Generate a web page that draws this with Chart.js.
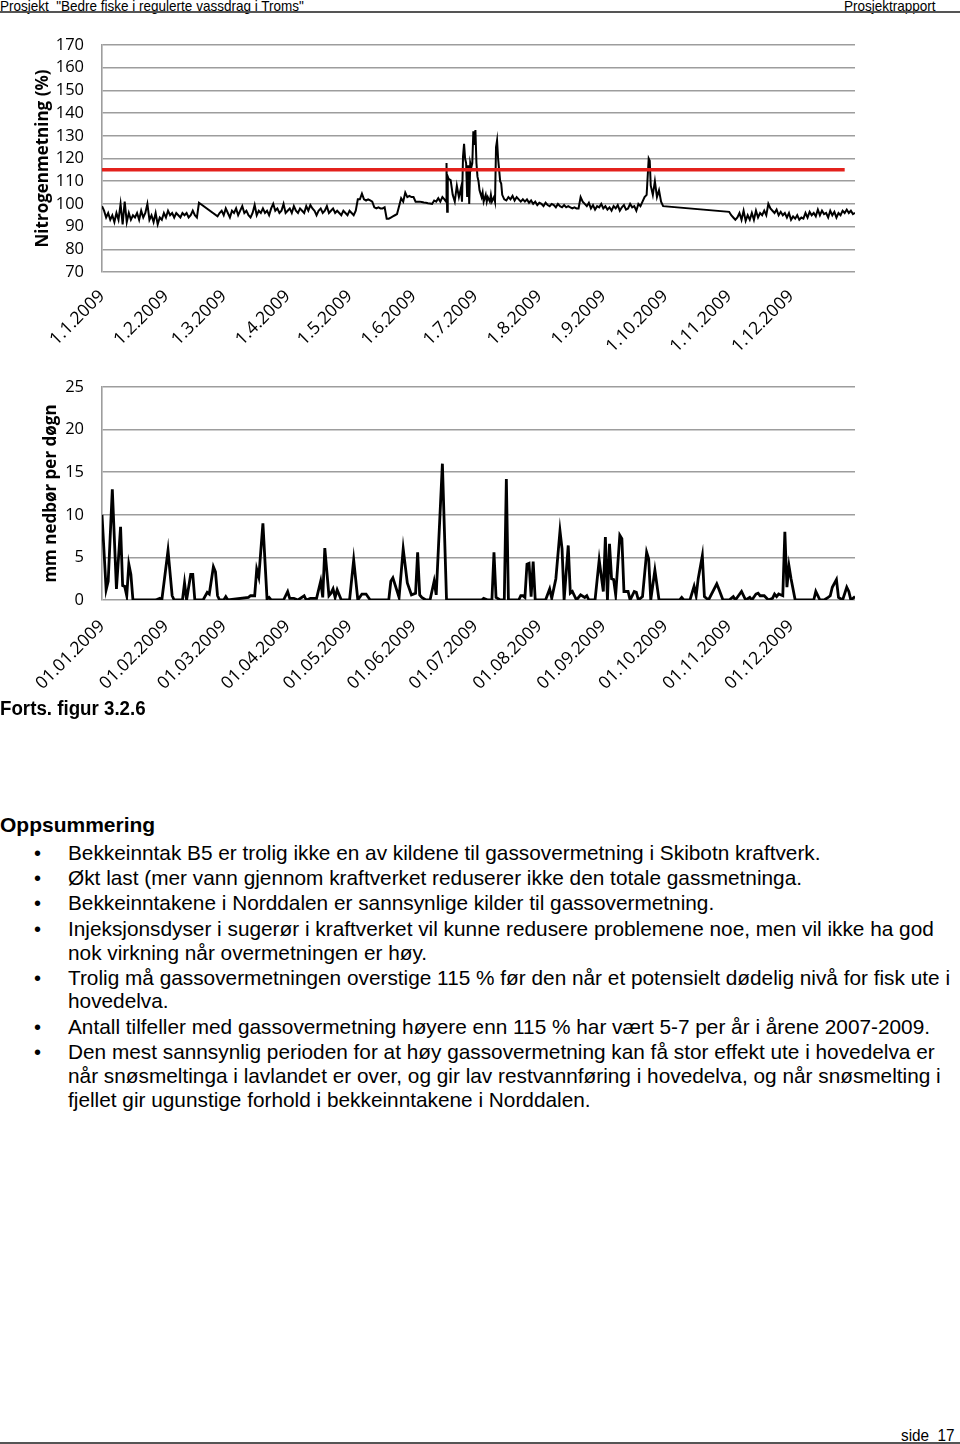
<!DOCTYPE html>
<html>
<head>
<meta charset="utf-8">
<script src="https://cdn.jsdelivr.net/npm/chart.js@4.4.0/dist/chart.umd.min.js"></script>
<style>
  body { margin: 0; width: 960px; height: 1444px; position: relative; background: #fff; overflow: hidden;
         font-family: "Liberation Sans", Arial, sans-serif; color: #000; }
  .narrow { position: absolute; font-family: "Liberation Sans", Arial, sans-serif; white-space: nowrap;
            transform: scaleX(0.9); transform-origin: 0 0; }
  .rule { position: absolute; left: 0; width: 960px; height: 2px; background: #555; }
  .line { position: absolute; left: 68px; font-size: 20.8px; line-height: 24px; white-space: nowrap; }
  .dot { position: absolute; left: 34px; font-size: 20px; line-height: 24px; }
  canvas { position: absolute; left: 0; }
</style>
</head>
<body>
<div class="narrow" style="left:0;top:-3px;font-size:15px">Prosjekt&nbsp;&nbsp;"Bedre fiske i regulerte vassdrag i Troms"</div>
<div class="narrow" style="left:844px;top:-3px;font-size:15px">Prosjektrapport</div>
<div class="rule" style="top:11px"></div>

<canvas id="nitro" width="870" height="330" style="top:30px"></canvas>
<canvas id="rain" width="870" height="340" style="top:360px"></canvas>

<div class="narrow" style="left:0;top:697px;font-size:19.5px;font-weight:bold;transform:scaleX(0.96)">Forts. figur 3.2.6</div>

<div style="position:absolute;left:0;top:813px;font-size:21px;font-weight:bold">Oppsummering</div>
<div class="dot" style="top:841px">•</div><div class="line" style="top:841px">Bekkeinntak B5 er trolig ikke en av kildene til gassovermetning i Skibotn kraftverk.</div>
<div class="dot" style="top:866px">•</div><div class="line" style="top:866px">Økt last (mer vann gjennom kraftverket reduserer ikke den totale gassmetninga.</div>
<div class="dot" style="top:891px">•</div><div class="line" style="top:891px">Bekkeinntakene i Norddalen er sannsynlige kilder til gassovermetning.</div>
<div class="dot" style="top:917px">•</div><div class="line" style="top:917px">Injeksjonsdyser i sugerør i kraftverket vil kunne redusere problemene noe, men vil ikke ha god</div>
<div class="line" style="top:941px">nok virkning når overmetningen er høy.</div>
<div class="dot" style="top:966px">•</div><div class="line" style="top:966px">Trolig må gassovermetningen overstige 115 % før den når et potensielt dødelig nivå for fisk ute i</div>
<div class="line" style="top:989px">hovedelva.</div>
<div class="dot" style="top:1015px">•</div><div class="line" style="top:1015px">Antall tilfeller med gassovermetning høyere enn 115 % har vært 5-7 per år i årene 2007-2009.</div>
<div class="dot" style="top:1040px">•</div><div class="line" style="top:1040px">Den mest sannsynlig perioden for at høy gassovermetning kan få stor effekt ute i hovedelva er</div>
<div class="line" style="top:1064px">når snøsmeltinga i lavlandet er over, og gir lav restvannføring i hovedelva, og når snøsmelting i</div>
<div class="line" style="top:1088px">fjellet gir ugunstige forhold i bekkeinntakene i Norddalen.</div>

<div class="narrow" style="left:901px;top:1426px;font-size:17px">side&nbsp;&nbsp;17</div>
<div class="rule" style="top:1442px"></div>

<script>
// dager fra 1.1.2009 der månedene starter
const monthStartDays = [0, 31, 59, 90, 120, 151, 181, 212, 243, 273, 304, 334];
const nitroTickLabels = ['1.1.2009', '1.2.2009', '1.3.2009', '1.4.2009', '1.5.2009', '1.6.2009',
  '1.7.2009', '1.8.2009', '1.9.2009', '1.10.2009', '1.11.2009', '1.12.2009'];
const rainTickLabels = ['01.01.2009', '01.02.2009', '01.03.2009', '01.04.2009', '01.05.2009', '01.06.2009',
  '01.07.2009', '01.08.2009', '01.09.2009', '01.10.2009', '01.11.2009', '01.12.2009'];

// nitrogenmetning (%), dag i året
const nitroDays = [
  0, 1, 2, 3, 4, 5, 6, 7, 8, 9, 10, 11, 12, 13, 14, 15, 16, 17, 18, 19, 20, 21, 22, 23, 24, 25, 26, 27, 28, 29,
  30, 31, 32, 33, 34, 35, 36, 37, 38, 39, 40, 41, 42, 43, 44, 45, 46, 47, 56,
  57, 58, 59, 60, 61, 62, 63, 64, 65, 66, 67, 68, 69, 70, 71, 72, 73, 74, 75, 76, 77, 78, 79, 80, 81, 82, 83,
  84, 85, 86, 87, 88, 89, 90, 91, 92, 93, 94, 95, 96, 97, 98, 99, 100, 101, 102, 103, 104, 105, 106, 107, 108,
  109, 110, 111, 112, 113, 114, 115, 116, 117, 118, 119, 120, 121, 122, 123,
  124, 125, 126, 127, 128, 129, 130, 131, 132, 133, 134, 135, 136, 137, 138, 139, 140, 141, 142, 143, 144, 145,
  146, 147, 148, 149, 150, 151, 152, 153, 154, 155, 156, 157, 158, 159, 160, 161, 162, 163, 164, 165, 166,
  166.8, 167, 167.3, 167.6, 168, 169, 170, 171, 172, 173, 174, 174.5, 175, 175.5, 176, 176.5, 177, 177.5, 178,
  178.5, 179, 179.5, 180, 180.5, 181, 181.5, 182, 182.5, 183, 184, 184.5, 185, 186, 186.5, 187, 188, 188.5, 189,
  190, 190.5, 191, 191.5, 192, 193, 193.5, 194, 195, 196, 197, 198, 199, 200, 201, 202, 203, 204, 205, 206, 207,
  208, 209, 210, 211, 212, 213, 214, 215, 216, 217, 218, 219, 220, 221, 222, 223, 224, 225, 226, 227, 228, 229,
  230, 231, 232, 233, 234, 235, 236, 237, 238, 239, 240, 241, 242, 243, 244, 245, 246, 247, 248, 249, 250, 251,
  252, 253, 254, 255, 256, 257, 258, 259, 260, 261, 262, 263, 264, 265, 265.5, 266, 267, 268, 269, 270, 271, 272,
  304, 305, 306, 307, 308, 309, 310, 311, 312, 313, 314, 315, 316, 317, 318, 319, 320, 321, 322, 323, 324, 325,
  326, 327, 328, 329, 330, 331, 332, 333, 334, 335, 336, 337, 338, 339, 340, 341, 342, 343, 344, 345, 346, 347,
  348, 349, 350, 351, 352, 353, 354, 355, 356, 357, 358, 359, 360, 361, 362, 363, 364, 365
];
const nitroValues = [
  99, 97, 94, 96, 93, 95, 92, 96, 93, 100, 91, 101, 92, 96, 93, 95, 94, 96, 93, 97, 94, 96, 100, 93, 95, 92, 96, 91, 94, 93,
  96, 94, 97, 95, 96, 94, 96, 95, 94, 96, 95, 96, 94, 95, 97, 95, 94, 100.5, 94.5,
  96, 97, 95, 98, 96, 94, 97, 96, 98, 95, 97, 99, 96, 97, 95, 94, 96, 99.5, 95, 97, 96, 98, 96, 97, 95, 98, 100,
  97, 98, 96, 97, 100, 96, 97, 98, 96, 99, 97, 96, 98, 97, 96, 99, 97, 99.5, 98, 97, 95, 97, 98, 96, 97,
  99, 96, 97, 98, 96, 97, 96, 95, 97, 96, 95, 97, 96, 95, 97,
  102, 102, 104.5, 102, 101.5, 102, 101.5, 101, 98.5, 98, 98.5, 98, 98, 98.5, 93.5, 93.5, 94, 94.5, 95, 95.5, 99, 102.5,
  101, 105, 103, 103.5, 103, 103, 101, 101, 101, 100.8, 100.6, 100.5, 100.3, 100.2, 100, 101.5, 101, 102.5, 101, 103, 102,
  101, 118, 96.5, 112, 111, 110.5, 104, 101, 108, 103, 107, 101, 121, 126.5, 120, 118, 103, 117, 100,
  118, 116, 118, 132, 126, 132.5, 118, 112, 110, 106, 103, 105, 101, 104, 101, 103, 101, 104, 101,
  103, 101, 125, 128, 120, 110, 109, 104, 102, 101.5, 103, 102, 103.5, 101.5, 103, 102, 101, 102, 101, 102, 100.5,
  101.5, 100, 101, 99.5, 100.5, 100, 99, 100.5, 99.5, 99, 100, 99.5, 98.5, 100, 99, 98.5, 99.5, 98.5, 99, 98.5, 98, 98.5,
  98, 98, 103, 101, 100, 99, 100.5, 98, 99.5, 97.5, 99, 98.5, 100, 98, 99, 97.5, 98.5, 97, 99, 98, 99.5, 97,
  98.5, 99.5, 97.5, 98, 100, 98.5, 99, 97, 100, 99, 101, 103, 104, 120, 119, 108, 104, 110, 103, 106, 101, 99,
  96.5, 95, 94, 93, 94, 96, 93, 97, 92.5, 95, 93, 96, 93, 97, 94, 96, 95, 97, 95, 100, 98, 97,
  96, 97.5, 95, 96.5, 95, 96, 94, 96, 93, 94.5, 93.5, 95, 93, 94, 93.5, 96, 94, 96.5, 95, 96, 94.5, 97.5,
  95, 97, 95.5, 96, 94, 97, 95, 96.5, 94, 96, 95, 97, 96, 97.5, 96, 97, 95.5, 96
];
// grenseverdi 115 %
const limitDays = [0, 360];
const limitValues = [115, 115];

// nedbør (mm per døgn)
const rainDays = [
  0, 2, 3, 5, 7, 9, 10, 11, 12, 13, 14, 15, 26, 28, 29, 32, 34, 35, 39, 40, 41, 43, 44, 45, 49, 51, 52, 54, 55, 56,
  57, 59, 60, 61, 71, 72, 74, 75, 76, 78, 80, 81, 82, 88, 90, 91, 93, 95, 98, 99, 101, 104, 106, 107, 108, 110,
  111, 112, 113, 114, 116, 120, 122, 124, 126, 128, 130, 139, 140, 141, 144, 146, 148, 150, 152, 153, 154, 155,
  157, 159, 161, 162, 165, 167, 184, 185, 187, 189, 190, 191, 193, 195, 196, 197, 202, 203, 204, 205, 206, 207,
  208, 209, 210, 215, 217, 218, 220, 222, 223, 224, 226, 227, 228, 230, 232, 234, 235, 236, 239, 241, 243, 244,
  245, 246, 247, 248, 249, 251, 252, 253, 255, 256, 258, 259, 260, 262, 264, 265, 266, 268, 270, 280, 281, 282,
  285, 287, 288, 289, 291, 292, 294, 298, 299, 301, 304, 306, 307, 310, 312, 314, 315, 317, 318, 319, 321, 323,
  325, 326, 327, 328, 330, 331, 332, 333, 334, 336, 345, 346, 348, 350, 352, 353, 354, 356, 357, 359, 361, 362,
  363, 365
];
const rainValues = [
  10, 1.2, 2.2, 13, 1.3, 8.6, 1.7, 1.6, 0.5, 4.2, 3, 0, 0, 0.2, 0, 5.8, 0.5, 0, 0, 2, 0, 3, 3, 0, 0, 0.9, 0.7, 3.9, 3.3, 0.5,
  0, 0, 0.4, 0, 0.3, 0.5, 0.5, 3.6, 2.7, 9, 0.1, 0.3, 0, 0, 1, 0.2, 0.2, 0, 0.5, 0, 0.2, 0.2, 2.2, 0.3, 6.1, 0.5,
  0.8, 1.3, 0.3, 1.2, 0, 0, 4.7, 0, 0.7, 0.7, 0, 0, 2.2, 2.6, 0.3, 6, 2, 0.6, 0.8, 5.6, 0.6, 0.3,
  0, 0, 2.2, 0.6, 16, 0, 0, 0.2, 0, 0, 5.6, 0.3, 0, 0, 14.2, 0, 0, 0.5, 0.5, 0.3, 4.2, 4.3,
  0.4, 4.5, 0, 0, 1.3, 0.2, 2.5, 8.1, 6, 0, 6.4, 0.8, 1, 0, 0.6, 0.3, 0.5, 0, 0, 4.7, 1, 7.4,
  0, 6.6, 2.5, 2.4, 0.6, 7.6, 7.2, 1, 1, 0, 1, 0.9, 0, 0.4, 5.6, 4.8, 0, 3.5, 0, 0, 0.3, 0,
  0, 1.6, 0.5, 2.5, 5.2, 0.4, 0, 1.9, 1.3, 0, 0, 0.4, 0, 1, 0, 0.3, 0, 0.7, 0.8, 0.5, 0.5, 0,
  0.2, 0.7, 0.4, 0.7, 0.5, 8, 1.5, 4, 2.5, 0, 0, 1, 0, 0, 0.3, 0.5, 1.5, 2.4, 0.3, 0, 1.5, 1,
  0, 0.4
];

const gridGrey = '#9d9d9d';
const tickFont = { family: "'Open Sans', sans-serif", size: 16.5 };

function points(xs, ys) {
  return xs.map((x, i) => ({ x: x, y: ys[i] }));
}

function drawChart(id, datasets, yOpts) {
  return new Chart(document.getElementById(id), {
    type: 'line',
    data: { datasets: datasets },
    options: {
      responsive: false,
      animation: false,
      devicePixelRatio: 1,
      layout: { padding: { left: yOpts.padLeft, top: yOpts.padTop, right: 15, bottom: 0 } },
      elements: { point: { radius: 0 }, line: { tension: 0 } },
      plugins: { legend: { display: false }, tooltip: { enabled: false } },
      scales: {
        x: {
          type: 'linear',
          min: 0,
          max: 365,
          grid: { display: false, drawTicks: false },
          border: { display: false },
          afterBuildTicks: s => { s.ticks = monthStartDays.map(v => ({ value: v })); },
          afterFit: s => { s.height = yOpts.xHeight; },
          ticks: {
            autoSkip: false,
            minRotation: 45,
            maxRotation: 45,
            padding: yOpts.xPad,
            color: '#000',
            font: { family: "'Open Sans', sans-serif", size: 17.5 },
            callback: (v, i) => yOpts.labels[i]
          }
        },
        y: {
          min: yOpts.min,
          max: yOpts.max,
          afterFit: s => { s.width = yOpts.width; s.paddingTop = 0; s.paddingBottom = 0; },
          grid: { color: gridGrey, lineWidth: 1.6, drawTicks: false },
          border: { display: true, color: gridGrey, width: 1.6 },
          ticks: { stepSize: yOpts.step, autoSkip: false, padding: 18, color: '#000', font: tickFont },
          title: {
            display: true,
            text: yOpts.title,
            color: '#000',
            padding: 0,
            font: { family: "'Open Sans', sans-serif", size: 17, weight: 'bold' }
          }
        }
      }
    }
  });
}

drawChart('nitro', [
  { data: points(limitDays, limitValues), borderColor: '#e3211c', borderWidth: 3.5 },
  { data: points(nitroDays, nitroValues), borderColor: '#000', borderWidth: 2 }
], { min: 70, max: 170, step: 10, title: 'Nitrogenmetning (%)', padLeft: 33, padTop: 15,
     width: 69, xHeight: 88, xPad: 14, labels: nitroTickLabels });

drawChart('rain', [
  { data: points(rainDays, rainValues), borderColor: '#000', borderWidth: 2.8 }
], { min: 0, max: 25, step: 5, title: 'mm nedbør per døgn', padLeft: 41, padTop: 27,
     width: 61, xHeight: 100, xPad: 16, labels: rainTickLabels });
</script>
</body>
</html>
